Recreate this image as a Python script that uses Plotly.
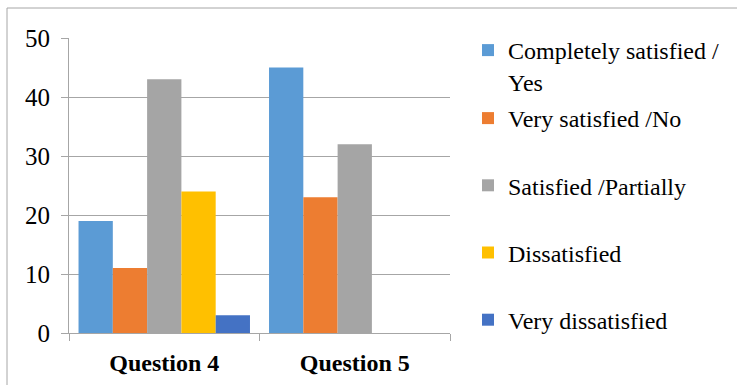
import plotly.graph_objects as go

categories = ["Question 4", "Question 5"]
series_names = ["Completely satisfied /<br>Yes", "Very satisfied /No", "Satisfied /Partially",
                "Dissatisfied", "Very dissatisfied"]
series_values = [
    [19, 45],
    [11, 23],
    [43, 32],
    [24, 0],
    [3, 0],
]
colors = ["#5B9BD5", "#ED7D31", "#A5A5A5", "#FFC000", "#4472C4"]
y_ticks = [0, 10, 20, 30, 40, 50]

FONT = "Liberation Serif"
W, H = 737, 387

fig = go.Figure()
for i, (name, vals, c) in enumerate(zip(series_names, series_values, colors)):
    fig.add_trace(go.Bar(x=categories, y=vals, name=name, marker_color=c,
                         marker_line_width=0, legendgroup=name,
                         legend="legend" if i == 0 else "legend2"))

leg_common = dict(
    xref="container", yref="container",
    x=468 / W, xanchor="left", yanchor="top",
    font=dict(family=FONT, size=24, color="black"),
    valign="top", bgcolor="rgba(0,0,0,0)", maxheight=600,
)

fig.update_layout(
    width=W, height=H,
    margin=dict(l=69, r=287, t=38, b=54),
    paper_bgcolor="white", plot_bgcolor="white",
    font=dict(family=FONT, size=24, color="black"),
    barmode="group", bargap=0.1, bargroupgap=0,
    showlegend=True,
    legend=dict(leg_common, y=1 - 28 / H),
    legend2=dict(leg_common, y=1 - 96 / H, tracegroupgap=33),
    xaxis=dict(
        showline=True, linecolor="#A6A6A6", linewidth=1,
        ticks="outside", tickson="boundaries", ticklen=7, tickcolor="#A6A6A6",
        showgrid=False,
        tickfont=dict(family=FONT, size=24, color="black", weight="bold"),
        ticklabelstandoff=8,
    ),
    yaxis=dict(
        range=[0, 50], tickvals=y_ticks,
        showline=True, linecolor="#A6A6A6", linewidth=1,
        ticks="outside", ticklen=7, tickcolor="#A6A6A6",
        showgrid=True, gridcolor="#A6A6A6", gridwidth=1,
        zeroline=False,
        tickfont=dict(family=FONT, size=25, color="black"),
        ticklabelstandoff=6,
    ),
    shapes=[
        dict(type="line", xref="paper", yref="paper",
             x0=(7 - 69) / 381, x1=(737 - 69) / 381,
             y0=(333 - 8) / 295, y1=(333 - 8) / 295,
             line=dict(color="#A6A6A6", width=1)),
        dict(type="line", xref="paper", yref="paper",
             x0=(7 - 69) / 381, x1=(7 - 69) / 381,
             y0=(333 - 8) / 295, y1=(333 - 385) / 295,
             line=dict(color="#A6A6A6", width=1)),
    ],
)

fig.write_html("out.html")
